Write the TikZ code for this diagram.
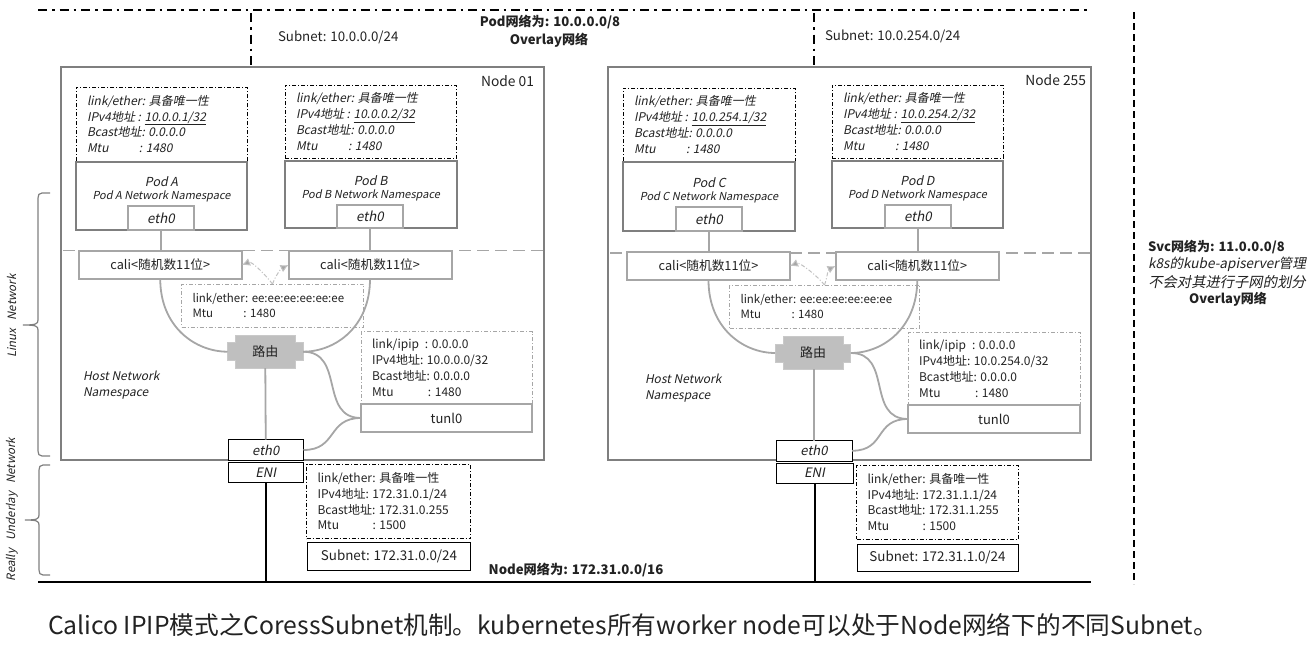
\documentclass[tikz,border=0pt]{standalone}
\usepackage{fontspec}
\setmainfont{Noto Sans CJK SC}[AutoFakeSlant=0.2]
\usetikzlibrary{arrows.meta}
\definecolor{ln}{HTML}{7F7F7F}
\definecolor{lt}{HTML}{A6A6A6}
\definecolor{tx}{HTML}{222222}
\newcommand{\fsz}[1]{\fontsize{#1}{15.8}\selectfont}
% \bx{name}{x1}{y1}{x2}{y2}{style}{text}
\newcommand{\bx}[7]{\node[#6,minimum width={(#4-#2)*1pt},minimum height={(#5-#3)*1pt}] (#1) at ({(#2+#4)/2},{(#3+#5)/2}) {#7};}
% \info{name}{x1}{y1}{x2}{y2}{style}{text}
\newcommand{\info}[7]{\node[#6,minimum width={(#4-#2)*1pt},minimum height={(#5-#3)*1pt},inner sep=0pt,anchor=center] (#1) at ({(#2+#4)/2},{(#3+#5)/2}) {\begin{minipage}{\dimexpr #4pt-#2pt\relax}\raggedright\leftskip=11pt\relax #7\end{minipage}};}
\newcommand{\ml}[2]{\makebox[#1pt][l]{#2}}
\newcommand{\podtext}[1]{\raisebox{23pt}{\begin{tabular}{@{}c@{}}\itshape\fsz{12.4}Pod #1\\[-3pt]\itshape\fsz{11}Pod #1 Network Namespace\end{tabular}}}
% router body
\newcommand{\router}[2]{\fill[fill=routerf,draw=routerd,line width=1pt] (#1-37.8,#2-9) -- (#1-30,#2-9) -- (#1-30,#2-16.5) -- (#1+30,#2-16.5) -- (#1+30,#2-9) -- (#1+37.8,#2-9) -- (#1+37.8,#2+9) -- (#1+30,#2+9) -- (#1+30,#2+16.5) -- (#1-30,#2+16.5) -- (#1-30,#2+9) -- (#1-37.8,#2+9) -- cycle;}
\definecolor{routerf}{HTML}{BFBFBF}
\definecolor{routerd}{HTML}{C9C9C9}
\tikzset{
  base/.style={inner sep=0pt,outer sep=0pt,text=tx,font=\fsz{12}},
  nodebox/.style={base,draw=ln,line width=2pt},
  podbox/.style={base,draw=ln,line width=2pt,align=center},
  ethin/.style={base,draw=lt,line width=2pt,fill=white,font=\fsz{13.3}\itshape},
  calibox/.style={base,draw=lt,line width=2pt,fill=white,font=\fsz{12.7}},
  tunbox/.style={base,draw=lt,line width=2pt,fill=white,font=\fsz{13}},
  nicbox/.style={base,draw=black,line width=1pt,fill=white,font=\fsz{13}\itshape},
  subbox/.style={base,draw=black,line width=1pt,fill=white,font=\fsz{13.4}},
  infoblack/.style={base,draw=black,line width=.8pt,dash pattern=on 4pt off 2pt on 1pt off 2pt},
  infogray/.style={base,draw=lt,line width=.8pt,dash pattern=on 4pt off 2pt on 1pt off 2pt},
  conn/.style={draw=lt,line width=1.8pt},
  conn2/.style={draw=black,line width=2pt},
  hint/.style={draw=lt!70,line width=1pt,dash pattern=on 4pt off 2pt on 1pt off 2pt,-{Latex[length=8pt,width=8pt,fill=lt]}},
  ns/.style={draw=lt,line width=1.8pt,dash pattern=on 12pt off 6pt},
  frame/.style={draw=black,line width=2pt,dash pattern=on 9pt off 5pt on 2.5pt off 5pt},
  label/.style={base,anchor=west},
  titlebold/.style={base,anchor=center,font=\fsz{13.1}\bfseries},
  brace/.style={draw=ln,line width=1.2pt},
}
\begin{document}
\begin{tikzpicture}[x=1pt,y=-1pt]
\useasboundingbox (0,0) rectangle (1314,648);
% frames
\coordinate (ftl) at (38,10); \coordinate (ftr) at (1090,10);
\coordinate (fa) at (251,13); \coordinate (fb) at (814,13);
\coordinate (fa2) at (251,67); \coordinate (fb2) at (814,67);
\draw[frame] (ftl) -- (ftr);
\draw[frame] (fa) -- (fa2);
\draw[frame] (fb) -- (fb2);
\coordinate (svc1) at (1134,12); \coordinate (svc2) at (1134,584);
\draw[draw=black,line width=1.6pt,dash pattern=on 7pt off 4pt] (svc1) -- (svc2);
\node[titlebold] (podnet) at (550,22) {Pod网络为: 10.0.0.0/8};
\node[titlebold] (overlay) at (549,40) {Overlay网络};
\node[label,font=\fsz{13.3}] (suba) at (278,37) {Subnet: 10.0.0.0/24};
\node[label,font=\fsz{13.3}] (subb) at (825,36) {Subnet: 10.0.254.0/24};
% Node boxes
\bx{n1}{61}{67}{544}{460}{nodebox}{}
\bx{n2}{608}{67}{1091}{460}{nodebox}{}
\node[label,anchor=east,font=\fsz{13.8}] (n1t) at (534,81) {Node 01};
\node[label,anchor=east,font=\fsz{13.8}] (n2t) at (1086,80) {Node 255};
% namespace split
\coordinate (d1a) at (63,250.5); \coordinate (d1b) at (544,250.5);
\coordinate (d2a) at (610,253); \coordinate (d2b) at (1091,253);
\draw[ns] (d1a) -- (d1b);
\draw[ns] (d2a) -- (d2b);
% Node 01 pods
\info{ia}{76}{87}{247}{161}{infoblack}{\itshape link/ether: 具备唯一性\\IPv4地址 : \underline{10.0.0.1/32}\\Bcast地址: 0.0.0.0\\\ml{52}{Mtu}: 1480}
\info{ib}{285}{85}{456.5}{158}{infoblack}{\itshape link/ether: 具备唯一性\\IPv4地址 : \underline{10.0.0.2/32}\\Bcast地址: 0.0.0.0\\\ml{52}{Mtu}: 1480}
\bx{pa}{76}{162}{247}{230}{podbox}{\podtext{A}}
\bx{pb}{285}{161}{456.5}{228}{podbox}{\podtext{B}}
\bx{ea}{128}{206}{194}{230}{ethin}{eth0}
\bx{eb}{337}{205}{403}{228}{ethin}{eth0}
% Node 01 connectors
\bx{ca}{78.5}{251}{242}{279}{calibox}{cali<随机数11位>}
\bx{cb}{288.5}{251}{451.5}{279}{calibox}{cali<随机数11位>}
\draw[conn] (ea.south) -- (ca.north -| ea.south);
\draw[conn] (eb.south) -- (cb.north -| eb.south);
\router{265.3}{351.7}
\node[base,minimum width=75.6pt,minimum height=18pt,font=\fsz{13}] (ra) at (265.3,351.7) {路由};
\draw[conn] (ca.south) .. controls +(0,48) and +(-32,0) .. (ra.west);
\draw[conn] (cb.south) .. controls +(0,48) and +(32,0) .. (ra.east);
\info{ie}{181.5}{284}{363.5}{327}{infogray}{\fsz{11.5}link/ether: ee:ee:ee:ee:ee:ee\\\ml{51}{Mtu}: 1480}
\draw[hint] (ie.north) .. controls +(-6,-8) and +(10,-4) .. (ca.east);
\draw[hint] (ie.north) .. controls +(3,-8) and +(-8,4) .. (cb.west);
\info{it}{361}{331.5}{532}{404}{infogray}{\ml{53}{link/ipip}: 0.0.0.0\\IPv4地址: 10.0.0.0/32\\Bcast地址: 0.0.0.0\\\ml{56}{Mtu}: 1480}
\bx{ta}{361}{404}{532}{432}{tunbox}{tunl0}
\bx{e0a}{228}{439.5}{303.5}{460.5}{nicbox}{eth0}
\bx{ena}{228}{462}{303.5}{482.5}{nicbox}{ENI}
\draw[conn] (265.3,368) -- (e0a.north);
\draw[conn] (ra.east) .. controls +(42,0) and +(-42,0) .. (ta.west);
\draw[conn] (e0a.east) .. controls +(34,0) and +(-34,0) .. (ta.west);
\node[label,font=\fsz{12}\itshape,align=left] (hna) at (83,385) {Host Network\\Namespace};
\info{iu}{306.5}{464}{470.5}{538.5}{infoblack}{link/ether: 具备唯一性\\IPv4地址: 172.31.0.1/24\\Bcast地址: 172.31.0.255\\\ml{55}{Mtu}: 1500}
\bx{sa}{307.5}{542.5}{470.5}{570.5}{subbox}{Subnet: 172.31.0.0/24}
% Node 255 pods
\info{ic}{623}{88}{795}{161}{infoblack}{\itshape link/ether: 具备唯一性\\IPv4地址 : \underline{10.0.254.1/32}\\Bcast地址: 0.0.0.0\\\ml{52}{Mtu}: 1480}
\info{id}{832}{85}{1003}{158}{infoblack}{\itshape link/ether: 具备唯一性\\IPv4地址 : \underline{10.0.254.2/32}\\Bcast地址: 0.0.0.0\\\ml{52}{Mtu}: 1480}
\bx{pc}{623}{162}{795}{231}{podbox}{\podtext{C}}
\bx{pd}{832}{161}{1003}{228}{podbox}{\podtext{D}}
\bx{ec}{676}{207}{742}{231}{ethin}{eth0}
\bx{ed}{885}{205}{951}{228}{ethin}{eth0}
\bx{cc}{627}{252}{790}{280}{calibox}{cali<随机数11位>}
\bx{cd}{835.5}{252}{999}{280}{calibox}{cali<随机数11位>}
\draw[conn] (ec.south) -- (cc.north -| ec.south);
\draw[conn] (ed.south) -- (cd.north -| ed.south);
\router{813}{353}
\node[base,minimum width=75.6pt,minimum height=18pt,font=\fsz{13}] (rb) at (813,353) {路由};
\draw[conn] (cc.south) .. controls +(0,48) and +(-32,0) .. (rb.west);
\draw[conn] (cd.south) .. controls +(0,48) and +(32,0) .. (rb.east);
\info{if}{729.5}{285}{919.5}{328}{infogray}{\fsz{11.5}link/ether: ee:ee:ee:ee:ee:ee\\\ml{51}{Mtu}: 1480}
\draw[hint] (if.north) .. controls +(-6,-8) and +(10,-4) .. (cc.east);
\draw[hint] (if.north) .. controls +(3,-8) and +(-8,4) .. (cd.west);
\info{iw}{908}{332.5}{1080}{405}{infogray}{\ml{53}{link/ipip}: 0.0.0.0\\IPv4地址: 10.0.254.0/32\\Bcast地址: 0.0.0.0\\\ml{56}{Mtu}: 1480}
\bx{tb}{908}{405}{1080}{433}{tunbox}{tunl0}
\bx{e0b}{776}{440.5}{852}{461}{nicbox}{eth0}
\bx{enb}{776}{463}{853}{483}{nicbox}{ENI}
\draw[conn] (814,369) -- (e0b.north);
\draw[conn] (rb.east) .. controls +(42,0) and +(-42,0) .. (tb.west);
\draw[conn] (e0b.east) .. controls +(34,0) and +(-34,0) .. (tb.west);
\node[label,font=\fsz{12}\itshape,align=left] (hnb) at (645,388) {Host Network\\Namespace};
\info{ix}{856.5}{465}{1018}{539}{infoblack}{link/ether: 具备唯一性\\IPv4地址: 172.31.1.1/24\\Bcast地址: 172.31.1.255\\\ml{55}{Mtu}: 1500}
\bx{sb}{857}{544}{1018}{571}{subbox}{Subnet: 172.31.1.0/24}
% underlay
\coordinate (bl) at (38,582); \coordinate (br) at (1091,582);
\draw[conn2] (bl) -- (br);
\draw[conn2] (ena.south) -- (ena.south |- bl);
\draw[conn2] (enb.south) -- (enb.south |- bl);
\node[titlebold,font=\fsz{13.2}\bfseries] (nnet) at (576,570) {Node网络为: 172.31.0.0/16};
% braces
\coordinate (b1t) at (50,193); \coordinate (b1m) at (23,325); \coordinate (b1b) at (50,456);
\draw[brace] (b1t) -- (42,193) .. controls (39,193) and (38,195) .. (38,198) -- (38,320) .. controls (38,324) and (36,325) .. (b1m) (b1m) .. controls (36,325) and (38,326) .. (38,330) -- (38,451) .. controls (38,454) and (39,456) .. (42,456) -- (b1b);
\coordinate (b2t) at (50,465); \coordinate (b2m) at (25,520); \coordinate (b2b) at (50,575);
\draw[brace] (b2t) -- (43,465) .. controls (40,465) and (39,467) .. (39,470) -- (39,515) .. controls (39,519) and (37,520) .. (b2m) (b2m) .. controls (37,520) and (39,521) .. (39,525) -- (39,570) .. controls (39,573) and (40,575) .. (43,575) -- (b2b);
\node[base,rotate=90,font=\fsz{11.5}\itshape] (lnx) at (12,316) {Linux\hspace{8pt}Network};
\node[base,rotate=90,font=\fsz{11.5}\itshape] (rul) at (12,509.5) {Really\hspace{8pt}Underlay\hspace{8pt}Network};
% svc
\node[label,font=\fsz{13}\bfseries] (sv1) at (1148,247) {Svc网络为: 11.0.0.0/8};
\node[label,anchor=center,font=\fsz{13.6}\itshape] (sv2) at (1227,264) {k8s的kube-apiserver管理};
\node[label,anchor=center,font=\fsz{14.3}\itshape] (sv3) at (1227,282) {不会对其进行子网的划分};
\node[label,anchor=center,font=\fsz{13}\bfseries] (sv4) at (1228,299) {Overlay网络};
% caption
\node[label,font=\fontsize{24.7}{28}\selectfont] (cap) at (48,625) {Calico IPIP模式之CoressSubnet机制。kubernetes所有worker node可以处于Node网络下的不同Subnet。};
\end{tikzpicture}
\end{document}
